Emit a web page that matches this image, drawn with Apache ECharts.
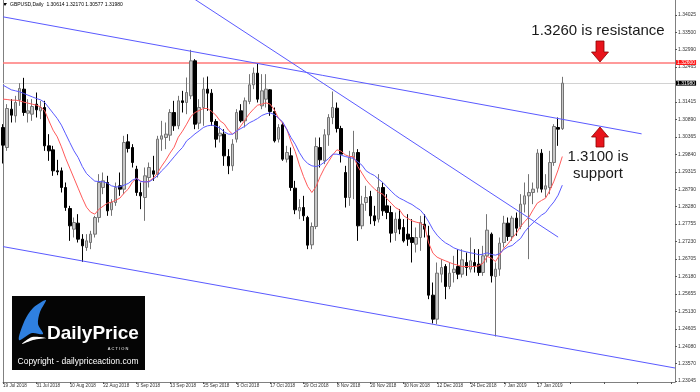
<!DOCTYPE html>
<html>
<head>
<meta charset="utf-8">
<title>GBPUSD Daily</title>
<script src="https://cdn.jsdelivr.net/npm/echarts@6/dist/echarts.min.js"></script>
<style>
  html, body { margin: 0; padding: 0; background: #fff; }
  #chart { width: 700px; height: 392px; }
</style>
</head>
<body>
<div id="chart"></div>
<script>
// trading days shown on the chart
const dates = [
  '19 Jul 2018','20 Jul 2018','23 Jul 2018','24 Jul 2018','25 Jul 2018','26 Jul 2018','27 Jul 2018','30 Jul 2018',
  '31 Jul 2018','1 Aug 2018','2 Aug 2018','3 Aug 2018','6 Aug 2018','7 Aug 2018','8 Aug 2018','9 Aug 2018',
  '10 Aug 2018','13 Aug 2018','14 Aug 2018','15 Aug 2018','16 Aug 2018','17 Aug 2018','20 Aug 2018','21 Aug 2018',
  '22 Aug 2018','23 Aug 2018','24 Aug 2018','27 Aug 2018','28 Aug 2018','29 Aug 2018','30 Aug 2018','31 Aug 2018',
  '3 Sep 2018','4 Sep 2018','5 Sep 2018','6 Sep 2018','7 Sep 2018','10 Sep 2018','11 Sep 2018','12 Sep 2018',
  '13 Sep 2018','14 Sep 2018','17 Sep 2018','18 Sep 2018','19 Sep 2018','20 Sep 2018','21 Sep 2018','24 Sep 2018',
  '25 Sep 2018','26 Sep 2018','27 Sep 2018','28 Sep 2018','1 Oct 2018','2 Oct 2018','3 Oct 2018','4 Oct 2018',
  '5 Oct 2018','8 Oct 2018','9 Oct 2018','10 Oct 2018','11 Oct 2018','12 Oct 2018','15 Oct 2018','16 Oct 2018',
  '17 Oct 2018','18 Oct 2018','19 Oct 2018','22 Oct 2018','23 Oct 2018','24 Oct 2018','25 Oct 2018','26 Oct 2018',
  '29 Oct 2018','30 Oct 2018','31 Oct 2018','1 Nov 2018','2 Nov 2018','5 Nov 2018','6 Nov 2018','7 Nov 2018',
  '8 Nov 2018','9 Nov 2018','12 Nov 2018','13 Nov 2018','14 Nov 2018','15 Nov 2018','16 Nov 2018','19 Nov 2018',
  '20 Nov 2018','21 Nov 2018','22 Nov 2018','23 Nov 2018','26 Nov 2018','27 Nov 2018','28 Nov 2018','29 Nov 2018',
  '30 Nov 2018','3 Dec 2018','4 Dec 2018','5 Dec 2018','6 Dec 2018','7 Dec 2018','10 Dec 2018','11 Dec 2018',
  '12 Dec 2018','13 Dec 2018','14 Dec 2018','17 Dec 2018','18 Dec 2018','19 Dec 2018','20 Dec 2018','21 Dec 2018',
  '24 Dec 2018','26 Dec 2018','27 Dec 2018','28 Dec 2018','31 Dec 2018','2 Jan 2019','3 Jan 2019','4 Jan 2019',
  '7 Jan 2019','8 Jan 2019','9 Jan 2019','10 Jan 2019','11 Jan 2019','14 Jan 2019','15 Jan 2019','16 Jan 2019',
  '17 Jan 2019','18 Jan 2019','21 Jan 2019','22 Jan 2019','23 Jan 2019','24 Jan 2019','25 Jan 2019'
]

const opens = [
  1.3065, 1.3005, 1.3120, 1.3100, 1.3148, 1.3180, 1.3108, 1.3105,
  1.3135, 1.3115, 1.3125, 1.3010, 1.2998, 1.2935, 1.2935, 1.2885,
  1.2822, 1.2760, 1.2778, 1.2730, 1.2705, 1.2720, 1.2745, 1.2795,
  1.2885, 1.2900, 1.2818, 1.2840, 1.2890, 1.2880, 1.3022, 1.3005,
  1.2940, 1.2870, 1.2855, 1.2915, 1.2935, 1.2925, 1.3030, 1.3035,
  1.3042, 1.3110, 1.3070, 1.3145, 1.3140, 1.3160, 1.3265, 1.3078,
  1.3125, 1.3180, 1.3168, 1.3083, 1.3040, 1.3045, 1.2978, 1.2950,
  1.3030, 1.3115, 1.3085, 1.3143, 1.3193, 1.3228, 1.3130, 1.3150,
  1.3178, 1.3113, 1.3030, 1.3073, 1.2970, 1.2980, 1.2883, 1.2815,
  1.2825, 1.2795, 1.2713, 1.2768, 1.3005, 1.2965, 1.3043, 1.3095,
  1.3123, 1.3062, 1.2930, 1.2855, 1.2975, 1.2990, 1.2770, 1.2840,
  1.2858, 1.2800, 1.2790, 1.2885, 1.2830, 1.2810, 1.2750, 1.2790,
  1.2765, 1.2745, 1.2735, 1.2715, 1.2735, 1.2775, 1.2740, 1.2562,
  1.2490, 1.2625, 1.2648, 1.2588, 1.2630, 1.2648, 1.2625, 1.2660,
  1.2640, 1.2660, 1.2655, 1.2630, 1.2680, 1.2745, 1.2618, 1.2640,
  1.2720, 1.2778, 1.2738, 1.2793, 1.2768, 1.2835, 1.2860, 1.2870,
  1.2883, 1.2988, 1.2880, 1.2885, 1.2960, 1.3065, 1.30614
]
const closes = [
  1.3012, 1.3122, 1.3102, 1.3140, 1.3182, 1.3110, 1.3115, 1.3128,
  1.3118, 1.3125, 1.3010, 1.2995, 1.2935, 1.2932, 1.2885, 1.2825,
  1.2770, 1.2780, 1.2730, 1.2710, 1.2725, 1.2745, 1.2795, 1.2900,
  1.2905, 1.2815, 1.2840, 1.2885, 1.2880, 1.3020, 1.3002, 1.2960,
  1.2870, 1.2860, 1.2920, 1.2945, 1.2925, 1.3030, 1.3040, 1.3045,
  1.3110, 1.3070, 1.3145, 1.3140, 1.3170, 1.3265, 1.3075, 1.3125,
  1.3180, 1.3168, 1.3083, 1.3030, 1.3048, 1.2980, 1.2950, 1.3015,
  1.3110, 1.3085, 1.3145, 1.3193, 1.3228, 1.3150, 1.3175, 1.3180,
  1.3113, 1.3025, 1.3065, 1.2970, 1.2990, 1.2885, 1.2818, 1.2825,
  1.2800, 1.2712, 1.2768, 1.3008, 1.2968, 1.3043, 1.3095, 1.3125,
  1.3062, 1.2985, 1.2855, 1.2975, 1.2990, 1.2770, 1.2835, 1.2855,
  1.2800, 1.2785, 1.2885, 1.2815, 1.2810, 1.2748, 1.2790, 1.2760,
  1.2725, 1.2730, 1.2720, 1.2735, 1.2780, 1.2760, 1.2562, 1.2490,
  1.2628, 1.2645, 1.2588, 1.2628, 1.2640, 1.2625, 1.2668, 1.2645,
  1.2665, 1.2650, 1.2630, 1.2680, 1.2757, 1.2620, 1.2640, 1.2718,
  1.2778, 1.2738, 1.2793, 1.2763, 1.2835, 1.2860, 1.2870, 1.2880,
  1.2988, 1.2880, 1.2890, 1.2960, 1.3068, 1.3060, 1.31980
]
const lows = [
  1.2957, 1.2995, 1.3080, 1.3080, 1.3130, 1.3100, 1.3080, 1.3085,
  1.3095, 1.3090, 1.2995, 1.2965, 1.2920, 1.2922, 1.2870, 1.2815,
  1.2725, 1.2735, 1.2720, 1.2662, 1.2695, 1.2700, 1.2735, 1.2780,
  1.2865, 1.2800, 1.2800, 1.2830, 1.2860, 1.2865, 1.2990, 1.2945,
  1.2860, 1.2820, 1.2785, 1.2885, 1.2905, 1.2915, 1.2995, 1.3000,
  1.3025, 1.3055, 1.3060, 1.3110, 1.3105, 1.3150, 1.3060, 1.3060,
  1.3070, 1.3115, 1.3070, 1.3005, 1.3020, 1.2950, 1.2925, 1.2935,
  1.3020, 1.3080, 1.3065, 1.3135, 1.3180, 1.3140, 1.3120, 1.3125,
  1.3100, 1.3020, 1.3020, 1.2965, 1.2960, 1.2875, 1.2805, 1.2790,
  1.2785, 1.2700, 1.2700, 1.2760, 1.2945, 1.2955, 1.3010, 1.3075,
  1.3050, 1.2960, 1.2825, 1.2830, 1.2850, 1.2725, 1.2760, 1.2815,
  1.2775, 1.2770, 1.2780, 1.2800, 1.2790, 1.2720, 1.2725, 1.2745,
  1.2720, 1.2710, 1.2660, 1.2690, 1.2695, 1.2735, 1.2550, 1.2477,
  1.2475, 1.2600, 1.2550, 1.2580, 1.2600, 1.2610, 1.2615, 1.2620,
  1.2630, 1.2630, 1.2620, 1.2620, 1.2660, 1.2600, 1.2438, 1.2620,
  1.2705, 1.2725, 1.2725, 1.2740, 1.2760, 1.2810, 1.2670, 1.2835,
  1.2870, 1.2870, 1.2855, 1.2865, 1.2950, 1.3010, 1.30577
]
const highs = [
  1.3075, 1.3135, 1.3150, 1.3160, 1.3198, 1.3214, 1.3150, 1.3150,
  1.3170, 1.3145, 1.3145, 1.3045, 1.3010, 1.2968, 1.2945, 1.2900,
  1.2830, 1.2795, 1.2805, 1.2745, 1.2745, 1.2755, 1.2800, 1.2925,
  1.2930, 1.2920, 1.2850, 1.2900, 1.2930, 1.3040, 1.3045, 1.3015,
  1.2950, 1.2900, 1.2945, 1.2960, 1.2980, 1.3040, 1.3085, 1.3080,
  1.3120, 1.3145, 1.3160, 1.3175, 1.3215, 1.3298, 1.3270, 1.3150,
  1.3215, 1.3218, 1.3180, 1.3090, 1.3070, 1.3060, 1.3000, 1.3030,
  1.3120, 1.3135, 1.3155, 1.3225, 1.3245, 1.3257, 1.3225, 1.3225,
  1.3180, 1.3125, 1.3075, 1.3080, 1.3010, 1.3005, 1.2905, 1.2850,
  1.2860, 1.2800, 1.2780, 1.3035, 1.3035, 1.3060, 1.3105, 1.3173,
  1.3140, 1.3070, 1.2950, 1.2995, 1.3055, 1.3000, 1.2860, 1.2890,
  1.2875, 1.2830, 1.2925, 1.2900, 1.2865, 1.2830, 1.2810, 1.2820,
  1.2790, 1.2805, 1.2790, 1.2765, 1.2800, 1.2805, 1.2770, 1.2600,
  1.2660, 1.2670, 1.2655, 1.2660, 1.2680, 1.2700, 1.2700, 1.2690,
  1.2735, 1.2700, 1.2700, 1.2710, 1.2805, 1.2750, 1.2660, 1.2735,
  1.2800, 1.2795, 1.2800, 1.2810, 1.2865, 1.2900, 1.2925, 1.2900,
  1.3000, 1.3000, 1.2925, 1.2995, 1.3075, 1.3095, 1.32170
]

// moving averages (red = fast, blue = slow)
const maFast = [
  1.3150, 1.3149, 1.3147, 1.3147, 1.3145, 1.3141, 1.3138, 1.3135,
  1.3132, 1.3127, 1.3115, 1.3085, 1.3057, 1.3037, 1.3007, 1.2973,
  1.2943, 1.2913, 1.2883, 1.2853, 1.2826, 1.2811, 1.2805, 1.2820,
  1.2829, 1.2838, 1.2841, 1.2847, 1.2853, 1.2868, 1.2880, 1.2901,
  1.2913, 1.2904, 1.2901, 1.2904, 1.2913, 1.2928, 1.2949, 1.2967,
  1.2988, 1.3006, 1.3036, 1.3054, 1.3075, 1.3098, 1.3110, 1.3116,
  1.3122, 1.3122, 1.3113, 1.3102, 1.3085, 1.3076, 1.3057, 1.3045,
  1.3053, 1.3070, 1.3088, 1.3106, 1.3120, 1.3132, 1.3135, 1.3139,
  1.3135, 1.3118, 1.3093, 1.3078, 1.3060, 1.3023, 1.2993, 1.2953,
  1.2918, 1.2888, 1.2870, 1.2888, 1.2918, 1.2943, 1.2963, 1.2983,
  1.2998, 1.2994, 1.2983, 1.2978, 1.2978, 1.2948, 1.2928, 1.2908,
  1.2893, 1.2881, 1.2870, 1.2865, 1.2851, 1.2838, 1.2825, 1.2818,
  1.2800, 1.2792, 1.2785, 1.2781, 1.2778, 1.2770, 1.2718, 1.2688,
  1.2676, 1.2670, 1.2665, 1.2660, 1.2655, 1.2652, 1.2648, 1.2648,
  1.2648, 1.2648, 1.2650, 1.2658, 1.2678, 1.2673, 1.2663, 1.2683,
  1.2703, 1.2716, 1.2733, 1.2748, 1.2768, 1.2783, 1.2796, 1.2818,
  1.2838, 1.2846, 1.2853, 1.2876, 1.2904, 1.2938, 1.2978
]
const maSlow = [
  1.3192, 1.3185, 1.3178, 1.3175, 1.3172, 1.3167, 1.3162, 1.3157,
  1.3152, 1.3148, 1.3140, 1.3124, 1.3108, 1.3092, 1.3072, 1.3046,
  1.3020, 1.2995, 1.2975, 1.2948, 1.2927, 1.2915, 1.2904, 1.2903,
  1.2902, 1.2898, 1.2890, 1.2887, 1.2887, 1.2892, 1.2897, 1.2907,
  1.2912, 1.2903, 1.2902, 1.2902, 1.2910, 1.2920, 1.2935, 1.2947,
  1.2962, 1.2977, 1.2992, 1.3005, 1.3025, 1.3035, 1.3046, 1.3055,
  1.3065, 1.3070, 1.3072, 1.3069, 1.3063, 1.3052, 1.3045, 1.3045,
  1.3055, 1.3062, 1.3069, 1.3079, 1.3085, 1.3092, 1.3101, 1.3106,
  1.3109, 1.3104, 1.3093, 1.3082, 1.3059, 1.3035, 1.3015, 1.2990,
  1.2970, 1.2957, 1.2950, 1.2948, 1.2952, 1.2961, 1.2972, 1.2985,
  1.2985, 1.2982, 1.2978, 1.2975, 1.2972, 1.2962, 1.2952, 1.2935,
  1.2927, 1.2921, 1.2910, 1.2900, 1.2887, 1.2874, 1.2862, 1.2853,
  1.2847, 1.2840, 1.2834, 1.2825, 1.2817, 1.2802, 1.2782, 1.2759,
  1.2742, 1.2729, 1.2719, 1.2712, 1.2704, 1.2699, 1.2695, 1.2692,
  1.2689, 1.2687, 1.2683, 1.2685, 1.2689, 1.2684, 1.2682, 1.2687,
  1.2699, 1.2707, 1.2711, 1.2722, 1.2732, 1.2752, 1.2767, 1.2779,
  1.2791, 1.2802, 1.2810, 1.2827, 1.2842, 1.2862, 1.2892
]

// price axis labels as printed on the right scale
const yTicks = [
  1.23045, 1.23570, 1.24080, 1.24605, 1.25130, 1.25655, 1.26180, 1.26705,
  1.27230, 1.27755, 1.28280, 1.28790, 1.29315, 1.29840, 1.30365, 1.30890,
  1.31415, 1.32465, 1.32990, 1.33500, 1.34025
]

const resistance = 1.3260
const lastPrice = 1.3198

// trend lines: [bar index, price]
const upperLine = [[0, 1.3397], [153, 1.3046]]
const steepLine = [[44, 1.34656], [133, 1.27362]]
const lowerLine = [[0, 1.27077], [161, 1.23435]]

const emptyBars = 27 // right-hand shift area of the chart

const categories = dates.concat(new Array(emptyBars).fill(''))
const candles = dates.map((d, i) => [opens[i], closes[i], lows[i], highs[i]])

const yMin = 1.23015
const yMax = 1.34475
const axisGray = '#808080'
const trendBlue = '#5a5aff'
const smallFont = '"Liberation Sans", Arial, sans-serif'

const chart = echarts.init(document.getElementById('chart'))

const trendSeries = (name, data) => ({
  name,
  type: 'line',
  data,
  symbol: 'none',
  clip: true,
  silent: true,
  z: 4,
  lineStyle: { color: trendBlue, width: 1 }
})

const priceTag = (text, bg) => ({
  position: 'end',
  formatter: text,
  distance: 1,
  fontSize: 5,
  fontFamily: smallFont,
  color: '#ffffff',
  backgroundColor: bg,
  padding: [0, 1, 0, 1]
})

const option = {
  animation: false,
  backgroundColor: '#ffffff',
  grid: { left: 2, right: 25, top: 0, bottom: 10 },
  xAxis: {
    type: 'category',
    data: categories,
    boundaryGap: false,
    axisLine: { lineStyle: { color: axisGray, width: 1 } },
    axisTick: { interval: 7, length: 2, lineStyle: { color: '#555' } },
    axisLabel: {
      interval: 7,
      fontSize: 4.6,
      fontFamily: smallFont,
      color: '#333',
      align: 'left',
      margin: 1
    },
    splitLine: { show: false }
  },
  yAxis: [
    {
      type: 'value',
      position: 'right',
      min: yMin,
      max: yMax,
      axisLine: { show: true, lineStyle: { color: axisGray, width: 1 } },
      axisTick: { show: true, length: 2, customValues: yTicks, lineStyle: { color: '#555' } },
      axisLabel: {
        customValues: yTicks,
        formatter: v => v.toFixed(5),
        fontSize: 5,
        fontFamily: smallFont,
        color: '#333',
        margin: 3
      },
      splitLine: { show: false }
    },
    {
      type: 'value',
      position: 'left',
      min: yMin,
      max: yMax,
      axisLine: { show: true, lineStyle: { color: axisGray, width: 1 } },
      axisTick: { show: false },
      axisLabel: { show: false },
      splitLine: { show: false }
    }
  ],
  series: [
    {
      name: 'GBPUSD',
      type: 'candlestick',
      data: candles,
      barWidth: 3,
      clip: true,
      z: 3,
      itemStyle: {
        color: '#c8c8c8',
        color0: '#000000',
        borderColor: '#747474',
        borderColor0: '#000000',
        borderWidth: 1
      },
      markLine: {
        silent: true,
        symbol: 'none',
        animation: false,
        precision: 5,
        z: 2,
        data: [
          {
            yAxis: resistance,
            lineStyle: { color: '#ff7878', width: 1.5, type: 'solid' },
            label: priceTag('1.32600', '#ff1a1a')
          },
          {
            yAxis: lastPrice,
            lineStyle: { color: '#d2d2d2', width: 1, type: 'solid' },
            label: priceTag('1.31980', '#000000')
          }
        ]
      }
    },
    {
      name: 'MA fast',
      type: 'line',
      data: maFast,
      symbol: 'none',
      silent: true,
      z: 4,
      lineStyle: { color: '#ff5a5a', width: 1 }
    },
    {
      name: 'MA slow',
      type: 'line',
      data: maSlow,
      symbol: 'none',
      silent: true,
      z: 4,
      lineStyle: { color: '#5a5aff', width: 1 }
    },
    trendSeries('Upper trend', upperLine),
    trendSeries('Falling trend', steepLine),
    trendSeries('Lower trend', lowerLine)
  ],
  graphic: [
    // chart header
    { type: 'polygon', shape: { points: [[3, 3], [7, 3], [5, 6]] }, style: { fill: '#000' } },
    {
      type: 'text', x: 10, y: 5,
      style: {
        text: 'GBPUSD,Daily  1.30614 1.32170 1.30577 1.31980',
        font: '5px ' + smallFont, fill: '#000', textVerticalAlign: 'middle'
      }
    },
    // resistance note
    {
      type: 'text', x: 598, y: 31,
      style: {
        text: '1.3260 is resistance',
        font: '15px ' + smallFont, fill: '#1a1a1a',
        textAlign: 'center', textVerticalAlign: 'middle'
      }
    },
    {
      type: 'polygon',
      shape: { points: [[596, 41], [604, 41], [604, 52], [608.5, 52], [600, 62], [591.5, 52], [596, 52]] },
      style: { fill: '#e8141c', stroke: '#8a0000', lineWidth: 0.8 }
    },
    // support note
    {
      type: 'polygon',
      shape: { points: [[600, 127], [608.5, 137], [604, 137], [604, 147], [596, 147], [596, 137], [591.5, 137]] },
      style: { fill: '#e8141c', stroke: '#8a0000', lineWidth: 0.8 }
    },
    {
      type: 'text', x: 598, y: 157,
      style: {
        text: '1.3100 is',
        font: '15px ' + smallFont, fill: '#1a1a1a',
        textAlign: 'center', textVerticalAlign: 'middle'
      }
    },
    {
      type: 'text', x: 598, y: 174,
      style: {
        text: 'support',
        font: '15px ' + smallFont, fill: '#1a1a1a',
        textAlign: 'center', textVerticalAlign: 'middle'
      }
    },
    // watermark logo
    { type: 'rect', shape: { x: 12, y: 296, width: 133, height: 74 }, style: { fill: '#050505' }, z: 10 },
    {
      type: 'polygon', z: 11,
      shape: { points: [[19, 340], [24, 322], [33, 308], [46, 300], [40, 312], [38, 324], [43, 334], [32, 333]], smooth: 0.3 },
      style: { fill: '#2f80e0' }
    },
    {
      type: 'polygon', z: 11,
      shape: { points: [[22, 344], [32, 337], [46, 338], [33, 340]], smooth: 0.3 },
      style: { fill: '#ffffff' }
    },
    {
      type: 'text', x: 47, y: 334, z: 11,
      style: {
        text: 'DailyPrice',
        font: 'bold 19px ' + smallFont,
        fill: '#ffffff', textVerticalAlign: 'middle'
      }
    },
    {
      type: 'text', x: 118, y: 349, z: 11,
      style: {
        text: 'A C T I O N',
        font: '4px ' + smallFont, fill: '#ffffff',
        textAlign: 'center', textVerticalAlign: 'middle'
      }
    },
    {
      type: 'text', x: 78, y: 362, z: 11,
      style: {
        text: 'Copyright - dailypriceaction.com',
        font: '8.5px ' + smallFont, fill: '#ffffff',
        textAlign: 'center', textVerticalAlign: 'middle'
      }
    }
  ]
}

chart.setOption(option)
</script>
</body>
</html>
